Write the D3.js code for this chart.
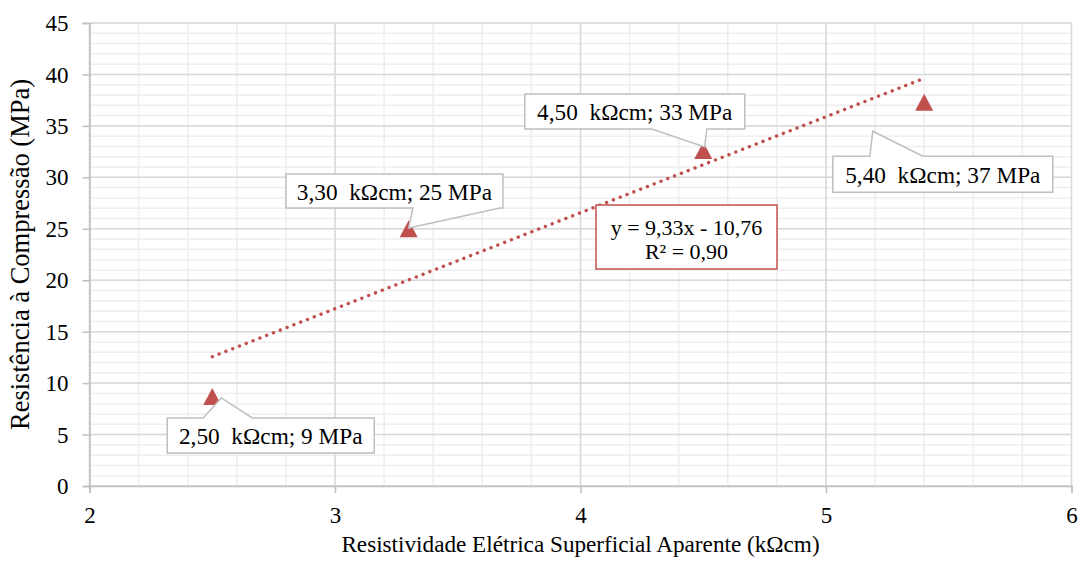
<!DOCTYPE html>
<html>
<head>
<meta charset="utf-8">
<script src="https://cdn.jsdelivr.net/npm/d3@7"></script>
<style>
  html, body { margin: 0; padding: 0; background: #fff; }
  svg { display: block; }
  text { font-family: "Liberation Serif", "Times New Roman", serif; fill: #000; }
</style>
</head>
<body>
<svg id="chart" width="1079" height="565"></svg>
<script>
// ---- data ----
const xValues = [2.5, 3.3, 4.5, 5.4];
const yValues = [8.7, 25.0, 32.6, 37.3];
const pointLabels = ["2,50\u00a0 k\u03A9cm; 9 MPa", "3,30\u00a0 k\u03A9cm; 25 MPa", "4,50\u00a0 k\u03A9cm; 33 MPa", "5,40\u00a0 k\u03A9cm; 37 MPa"];
const xTicks = [2, 3, 4, 5, 6];
const yTicks = [0, 5, 10, 15, 20, 25, 30, 35, 40, 45];
const trendSlope = 9.33;
const trendIntercept = -10.76;
const trendText = ["y = 9,33x - 10,76", "R\u00b2 = 0,90"];
const xTitle = "Resistividade Elétrica Superficial Aparente (k\u03A9cm)";
const yTitle = "Resistência à Compressão (MPa)";

// ---- layout (callout placement, pixels relative to the point) ----
const calloutLayout = [
  { dx: -45,   dy: 21.5,  w: 207, h: 35, side: "top",    a: 36,  b: 85,  tx: 9,     ty: 1.5 },
  { dx: -122.7, dy: -54.7, w: 217, h: 34, side: "bottom", a: 127, b: 214, tx: 0,     ty: -0.7 },
  { dx: -178.5, dy: -56.5, w: 220, h: 35, side: "bottom", a: 127, b: 182, tx: 1.5,   ty: -3.5 },
  { dx: -91.4,  dy: 54,    w: 220, h: 36, side: "top",    a: 37,  b: 90,  tx: -51.4, ty: 29 }
];

const svg = d3.select("#chart");
const pLeft = 89.5, pRight = 1071.5, pTop = 23, pBottom = 486;
const x = d3.scaleLinear().domain([2, 6]).range([pLeft, pRight]);
const y = d3.scaleLinear().domain([0, 45]).range([pBottom, pTop]);
const red = "#c0504d";
const FONT = "Liberation Serif";

// minor grid
const gMinor = svg.append("g");
d3.range(2, 6.0001, 0.2).forEach(v => {
  gMinor.append("line").attr("x1", x(v)).attr("x2", x(v)).attr("y1", pTop).attr("y2", pBottom)
    .attr("stroke", "#eeeeee").attr("stroke-width", 1.5);
});
d3.range(0, 46, 1).forEach(v => {
  gMinor.append("line").attr("x1", pLeft).attr("x2", pRight).attr("y1", y(v)).attr("y2", y(v))
    .attr("stroke", "#eeeeee").attr("stroke-width", 1.5);
});
// major grid
const gMajor = svg.append("g");
xTicks.forEach(v => {
  gMajor.append("line").attr("x1", x(v)).attr("x2", x(v)).attr("y1", pTop).attr("y2", pBottom)
    .attr("stroke", "#d9d9d9").attr("stroke-width", 1.5);
});
yTicks.forEach(v => {
  gMajor.append("line").attr("x1", pLeft).attr("x2", pRight).attr("y1", y(v)).attr("y2", y(v))
    .attr("stroke", "#d9d9d9").attr("stroke-width", 1.5);
});

// axes
const xAxis = d3.axisBottom(x).tickValues(xTicks).tickSize(7).tickPadding(14).tickFormat(d3.format("d"));
const yAxis = d3.axisLeft(y).tickValues(yTicks).tickSize(7).tickPadding(14).tickFormat(d3.format("d"));
const gx = svg.append("g").attr("transform", `translate(0,${pBottom})`).call(xAxis);
const gy = svg.append("g").attr("transform", `translate(${pLeft},0)`).call(yAxis);
[gx, gy].forEach(g => {
  g.attr("font-family", FONT);
  g.select(".domain").attr("stroke", "#bfbfbf").attr("stroke-width", 1.5);
  g.selectAll(".tick line").attr("stroke", "#bfbfbf").attr("stroke-width", 1.5);
  g.selectAll(".tick text").style("font-family", FONT).style("font-size", "23px").attr("fill", "#000");
});
gy.selectAll(".tick text").attr("dy", "0.33em");
gx.selectAll(".tick text").attr("y", 37).attr("dy", "0");

// axis titles
svg.append("text").attr("x", (pLeft + pRight) / 2).attr("y", 552).attr("text-anchor", "middle")
  .style("font-family", FONT).style("font-size", "23.2px").text(xTitle);
svg.append("text").attr("transform", `translate(29,${(pTop + pBottom) / 2}) rotate(-90)`)
  .attr("text-anchor", "middle").style("font-family", FONT).style("font-size", "26.5px").text(yTitle);

// trendline
const xMin = d3.min(xValues), xMax = d3.max(xValues);
svg.append("line")
  .attr("x1", x(xMin)).attr("y1", y(trendSlope * xMin + trendIntercept))
  .attr("x2", x(xMax)).attr("y2", y(trendSlope * xMax + trendIntercept))
  .attr("stroke", red).attr("stroke-width", 3.4).attr("stroke-linecap", "round")
  .attr("stroke-dasharray", "0.1 7.2");

// points (triangles)
const tw = 18, th = 17;
xValues.forEach((xv, i) => {
  const cx = x(xv), cy = y(yValues[i]);
  svg.append("path")
    .attr("d", `M${cx},${cy - th / 2} L${cx + tw / 2},${cy + th / 2} L${cx - tw / 2},${cy + th / 2} Z`)
    .attr("fill", red);
});

// callouts
xValues.forEach((xv, i) => {
  const L = calloutLayout[i];
  const px = x(xv), py = y(yValues[i]);
  const x0 = px + L.dx, y0 = py + L.dy, x1 = x0 + L.w, y1 = y0 + L.h;
  const tipX = px + L.tx, tipY = py + L.ty;
  let d;
  if (L.side === "top") {
    d = `M${x0},${y0} L${x0 + L.a},${y0} L${tipX},${tipY} L${x0 + L.b},${y0} L${x1},${y0} L${x1},${y1} L${x0},${y1} Z`;
  } else {
    d = `M${x0},${y0} L${x1},${y0} L${x1},${y1} L${x0 + L.b},${y1} L${tipX},${tipY} L${x0 + L.a},${y1} L${x0},${y1} Z`;
  }
  svg.append("path").attr("d", d).attr("fill", "#fff").attr("stroke", "#bfbfbf").attr("stroke-width", 1.5)
    .attr("stroke-linejoin", "miter");
  svg.append("text").attr("x", (x0 + x1) / 2).attr("y", y0 + L.h / 2 + 8.5)
    .attr("text-anchor", "middle").style("font-family", FONT).style("font-size", "23.3px")
    .style("white-space", "pre").text(pointLabels[i]);
});

// trendline equation box
const eq = { x0: 596, y0: 205, w: 181, h: 64 };
svg.append("rect").attr("x", eq.x0).attr("y", eq.y0).attr("width", eq.w).attr("height", eq.h)
  .attr("fill", "#fff").attr("stroke", red).attr("stroke-width", 1.5);
trendText.forEach((t, i) => {
  svg.append("text").attr("x", eq.x0 + eq.w / 2).attr("y", eq.y0 + 30 + i * 23.5)
    .attr("text-anchor", "middle").style("font-family", FONT).style("font-size", "22px").text(t);
});
</script>
</body>
</html>
